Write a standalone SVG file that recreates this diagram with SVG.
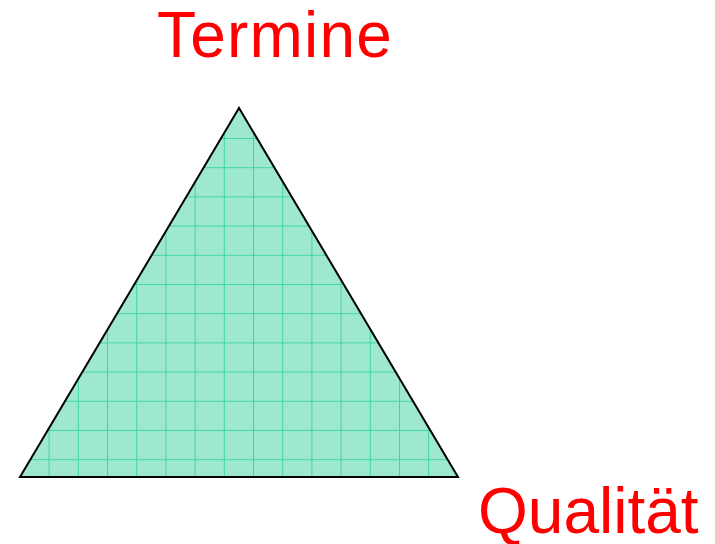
<svg xmlns="http://www.w3.org/2000/svg" width="715" height="544" viewBox="0 0 715 544">
<style>
.lbl{font-family:"Liberation Sans",Arial,sans-serif;font-size:64px;fill:#ff0000}
.grid{stroke:#3fd6a4;stroke-width:1;fill:none}
</style>
<defs>
<pattern id="g" patternUnits="userSpaceOnUse" x="19.4" y="21.2" width="29.2" height="29.2">
<rect width="29.2" height="29.2" fill="#9fe8d0"/>
<path class="grid" d="M0.5 0V29.2M0 0.5H29.2"/>
</pattern>
</defs>
<g id="triangle">
<polygon points="239,108 20,477 458,477" fill="url(#g)" stroke="#000" stroke-width="2" stroke-linejoin="miter"/>
</g>
<g id="termine"><text class="lbl" x="157" y="57" letter-spacing="1.2">Termine</text></g>
<g id="qualitaet"><text class="lbl" x="478" y="533">Qualität</text></g>
<g id="connectors"></g>
</svg>
